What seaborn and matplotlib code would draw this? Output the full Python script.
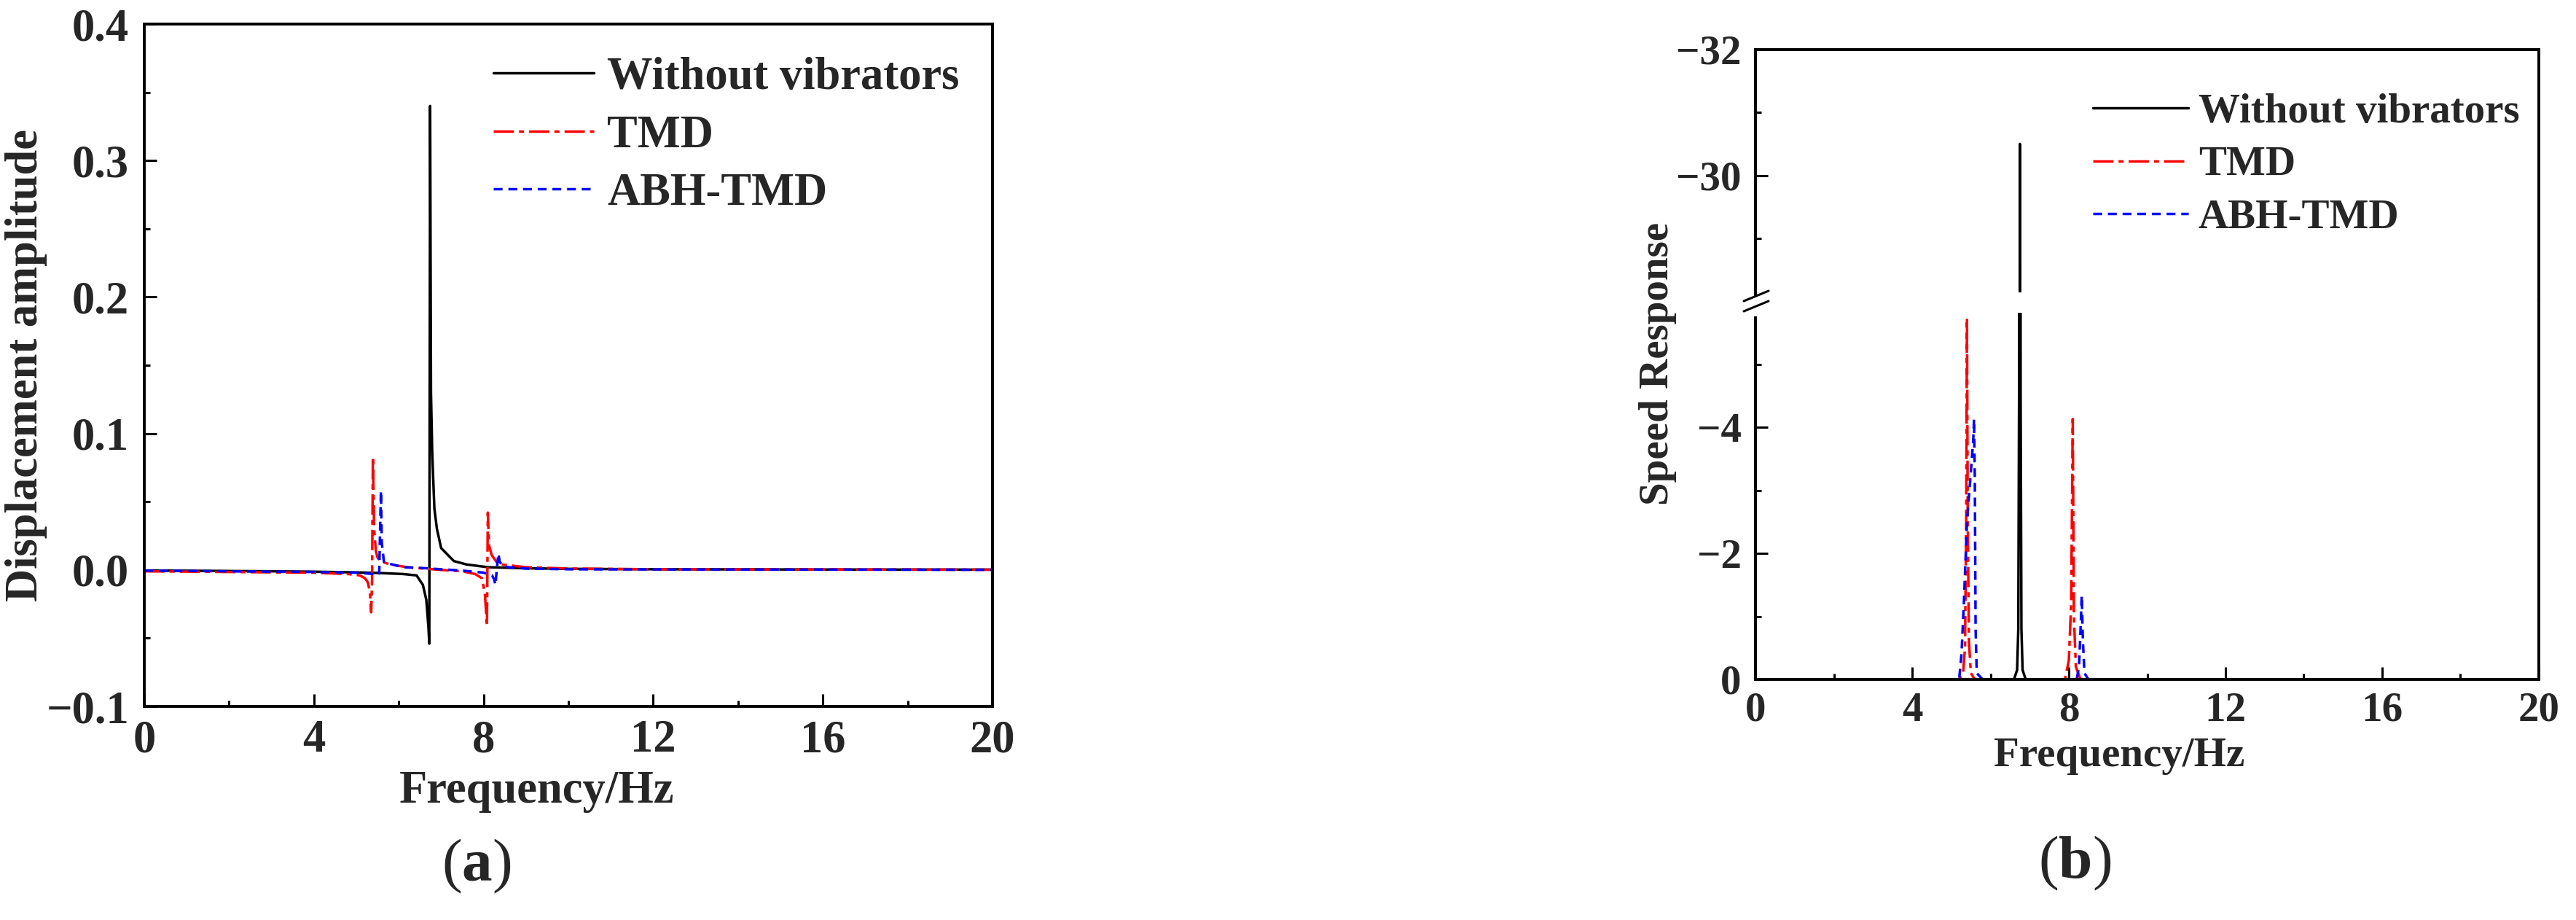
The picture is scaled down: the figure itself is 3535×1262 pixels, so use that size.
import matplotlib
matplotlib.use("Agg")
import matplotlib.pyplot as plt
from matplotlib.lines import Line2D
from matplotlib.patches import Polygon
import seaborn as sns

# ---- panel (a): displacement amplitude ----
freq_a_none = [0, 1, 2, 3, 4, 5, 5.5, 5.8, 6.1, 6.42, 6.57, 6.65, 6.70, 6.72, 6.74, 6.76, 6.79,
               6.84, 6.9, 7.0, 7.3, 7.6, 8.1, 9, 10, 12, 16, 20]
disp_a_none = [-0.0004, -0.0006, -0.0008, -0.001, -0.0013, -0.0018, -0.0022, -0.0026, -0.003, -0.004,
               -0.011, -0.022, -0.042, -0.054, 0.34, 0.13, 0.085, 0.045, 0.03, 0.016, 0.0065, 0.004,
               0.002, 0.0012, 0.0008, 0.0005, 0.0003, 0.0002]

freq_a_tmd = [0, 2, 4, 4.8, 5.08, 5.2, 5.27, 5.32, 5.35, 5.37, 5.39, 5.42, 5.46, 5.5, 5.6, 5.8, 6.2,
              7.0, 7.5, 7.8, 7.96, 8.03, 8.08, 8.09, 8.1, 8.13, 8.19, 8.3, 8.42, 9, 10, 12, 20]
disp_a_tmd = [-0.001, -0.0015, -0.002, -0.003, -0.004, -0.006, -0.009, -0.016, -0.031, -0.01, 0.083,
              0.03, 0.014, 0.009, 0.006, 0.004, 0.002, 0.0, -0.001, -0.003, -0.006, -0.017, -0.041,
              0.0, 0.042, 0.018, 0.011, 0.006, 0.004, 0.002, 0.001, 0.0005, 0.0002]

freq_a_abh = [0, 2, 4, 5.0, 5.4, 5.5, 5.54, 5.56, 5.58, 5.6, 5.65, 5.72, 5.85, 6.1, 6.5, 7.0, 7.5,
              8.0, 8.2, 8.25, 8.28, 8.31, 8.35, 8.38, 8.45, 8.6, 9, 10, 20]
disp_a_abh = [-0.0005, -0.001, -0.0015, -0.002, -0.003, -0.004, -0.002, 0.03, 0.058, 0.02, 0.006,
              0.005, 0.004, 0.002, 0.0015, 0.0005, -0.0005, -0.002, -0.004, -0.007, -0.011, 0.0,
              0.012, 0.006, 0.003, 0.002, 0.001, 0.0005, 0.0001]

# ---- panel (b): speed response ----
freq_b_none = [0, 6.6, 6.68, 6.71, 6.73, 6.75, 6.77, 6.79, 6.82, 6.9, 20]
speed_b_none = [0, 0, -0.15, -0.8, -4.5, -30.5, -4.5, -0.8, -0.15, 0, 0]

freq_b_tmd = [0, 5.2, 5.3, 5.35, 5.38, 5.4, 5.42, 5.45, 5.5, 5.6, 7.9, 8.0, 8.06, 8.1, 8.13, 8.18, 8.3, 20]
speed_b_tmd = [0, 0, -0.1, -0.5, -2.5, -5.73, -2.5, -0.6, -0.1, 0, 0, -0.3, -1.2, -4.13, -1.0, -0.2, 0, 0]

freq_b_abh = [0, 5.2, 5.26, 5.32, 5.4, 5.5, 5.56, 5.58, 5.6, 5.62, 5.65, 5.8, 8.2, 8.26, 8.3, 8.33,
              8.36, 8.4, 8.5, 20]
speed_b_abh = [0, 0, -0.4, -1.2, -2.5, -3.3, -3.8, -4.13, -3.2, -0.8, -0.1, 0, 0, -0.2, -0.8, -1.33,
               -0.6, -0.1, 0, 0]

labels = ["Without vibrators", "TMD", "ABH-TMD"]
colors = ["black", "#ff0000", "#0000ff"]
styles = ["-", (0, (8, 2, 2, 2)), (0, (3.5, 2.3))]

sns.set_style("ticks")
plt.rcParams['font.family'] = ['Liberation Serif', 'DejaVu Serif']
plt.rcParams['font.weight'] = 'bold'
plt.rcParams['axes.labelweight'] = 'bold'
plt.rcParams['mathtext.fontset'] = 'custom'
plt.rcParams['mathtext.rm'] = 'Liberation Serif'
plt.rcParams['mathtext.bf'] = 'Liberation Serif:bold'
plt.rcParams['axes.linewidth'] = 2.8

W, H = 3535, 1262
FS_A, FS_B = 45, 41
fig = plt.figure(figsize=(W / 100, H / 100), dpi=100)

def style_ax(ax, fs):
    ax.tick_params(which='both', direction='in', width=2.2, labelsize=fs,
                   top=False, right=False, color='black')
    ax.tick_params(which='major', length=12)
    ax.tick_params(which='minor', length=6)
    for s in ax.spines.values():
        s.set_color('black')
        s.set_linewidth(2.8)

# ---------- panel (a) ----------
ax_a = fig.add_axes([198 / W, 1 - 969 / H, 1164 / W, 936 / H])
series_a = [(freq_a_none, disp_a_none), (freq_a_tmd, disp_a_tmd), (freq_a_abh, disp_a_abh)]
handles_a = []
for (fx, fy), lab, c, ls in zip(series_a, labels, colors, styles):
    sns.lineplot(x=fx, y=fy, ax=ax_a, color=c, linestyle=ls, linewidth=2.5,
                 estimator=None, sort=False, errorbar=None, legend=False)
    handles_a.append(Line2D([], [], color=c, linestyle=ls, linewidth=2.5, label=lab))
ax_a.set_xlim(0, 20)
ax_a.set_ylim(-0.1, 0.4)
ax_a.set_xticks([0, 4, 8, 12, 16, 20])
ax_a.set_xticks([2, 6, 10, 14, 18], minor=True)
ax_a.set_yticks([-0.1, 0.0, 0.1, 0.2, 0.3, 0.4])
ax_a.set_yticks([-0.05, 0.05, 0.15, 0.25, 0.35], minor=True)
ax_a.set_yticklabels(["\u22120.1", "0.0", "0.1", "0.2", "0.3", "0.4"])
style_ax(ax_a, FS_A)
ax_a.tick_params(axis='x', pad=13)
ax_a.tick_params(axis='y', pad=15)
ax_a.set_xlabel("Frequency/Hz", fontsize=FS_A, fontweight='bold', va='center')
ax_a.set_ylabel("Displacement amplitude", fontsize=FS_A, fontweight='bold', va='center')
ax_a.xaxis.set_label_coords(0.463, -0.125)
ax_a.yaxis.set_label_coords((36 - 198) / 1164, 0.5)
fig.legend(handles=handles_a, loc='upper left', bbox_to_anchor=(677 / W, 1 - 78 / H),
           frameon=False, fontsize=FS_A, handlelength=2.2, handletextpad=0.3,
           labelspacing=0.344, borderpad=0, borderaxespad=0)

# ---------- panel (b) ----------
ax_top = fig.add_axes([2409 / W, 1 - 413 / H, 1075 / W, 345 / H])
ax_bot = fig.add_axes([2409 / W, 1 - 932 / H, 1075 / W, 519 / H])
series_b = [(freq_b_none, speed_b_none), (freq_b_tmd, speed_b_tmd), (freq_b_abh, speed_b_abh)]
handles_b = []
for ax in (ax_top, ax_bot):
    for (fx, fy), lab, c, ls in zip(series_b, labels, colors, styles):
        sns.lineplot(x=fx, y=fy, ax=ax, color=c, linestyle=ls, linewidth=2.5,
                     estimator=None, sort=False, errorbar=None, legend=False)
    ax.set_xlim(0, 20)
    style_ax(ax, FS_B)
    ax.tick_params(axis='y', pad=14)
for lab, c, ls in zip(labels, colors, styles):
    handles_b.append(Line2D([], [], color=c, linestyle=ls, linewidth=2.5, label=lab))

ax_top.set_ylim(-28, -32)
ax_top.set_yticks([-32, -30])
ax_top.set_yticks([-31, -29], minor=True)
ax_top.set_yticklabels(["\u221232", "\u221230"])
ax_top.spines['bottom'].set_visible(False)
ax_top.tick_params(axis='x', which='both', bottom=False, labelbottom=False)

ax_bot.set_ylim(0, -6)
ax_bot.set_yticks([0, -2, -4])
ax_bot.set_yticks([-1, -3, -5], minor=True)
ax_bot.set_yticklabels(["0", "\u22122", "\u22124"])
ax_bot.spines['top'].set_visible(False)
ax_bot.set_xticks([0, 4, 8, 12, 16, 20])
ax_bot.set_xticks([2, 6, 10, 14, 18], minor=True)
ax_bot.tick_params(axis='x', pad=12)
ax_bot.set_xlabel("Frequency/Hz", fontsize=FS_B, fontweight='bold', va='center')
ax_bot.xaxis.set_label_coords(0.464, -0.202)
fig.text(2275 / W, 1 - 499 / H, "Speed Response", rotation=90, ha='center', va='center',
         fontsize=FS_B, fontweight='bold')
fig.legend(handles=handles_b, loc='upper left', bbox_to_anchor=(2872 / W, 1 - 128 / H),
           frameon=False, fontsize=FS_B, handlelength=2.3, handletextpad=0.24,
           labelspacing=0.36, borderpad=0, borderaxespad=0)

# axis break marks
x0, yb = 2409, 413
band = Polygon([((x0 - 16) / W, 1 - (yb + 21) / H), ((3484 - 3) / W, 1 - (yb + 7) / H),
                ((3484 - 3) / W, 1 - (yb - 21) / H), ((x0 - 16) / W, 1 - (yb - 7) / H)],
               closed=True, transform=fig.transFigure, facecolor='white', edgecolor='none', zorder=5)
fig.add_artist(band)
for off in (-7, 7):
    fig.add_artist(Line2D([(x0 - 16) / W, (x0 + 18) / W],
                          [1 - (yb + off + 7) / H, 1 - (yb + off - 7) / H],
                          transform=fig.transFigure, color='black', linewidth=2.2, zorder=6))

# panel labels
fig.text(654 / W, 1 - 1188 / H, r"($\mathbf{a}$)", ha='center', va='center', fontsize=60,
         fontweight='normal')
fig.text(2847 / W, 1 - 1184 / H, r"($\mathbf{b}$)", ha='center', va='center', fontsize=60,
         fontweight='normal')

fig.savefig("out.png", dpi=100)
